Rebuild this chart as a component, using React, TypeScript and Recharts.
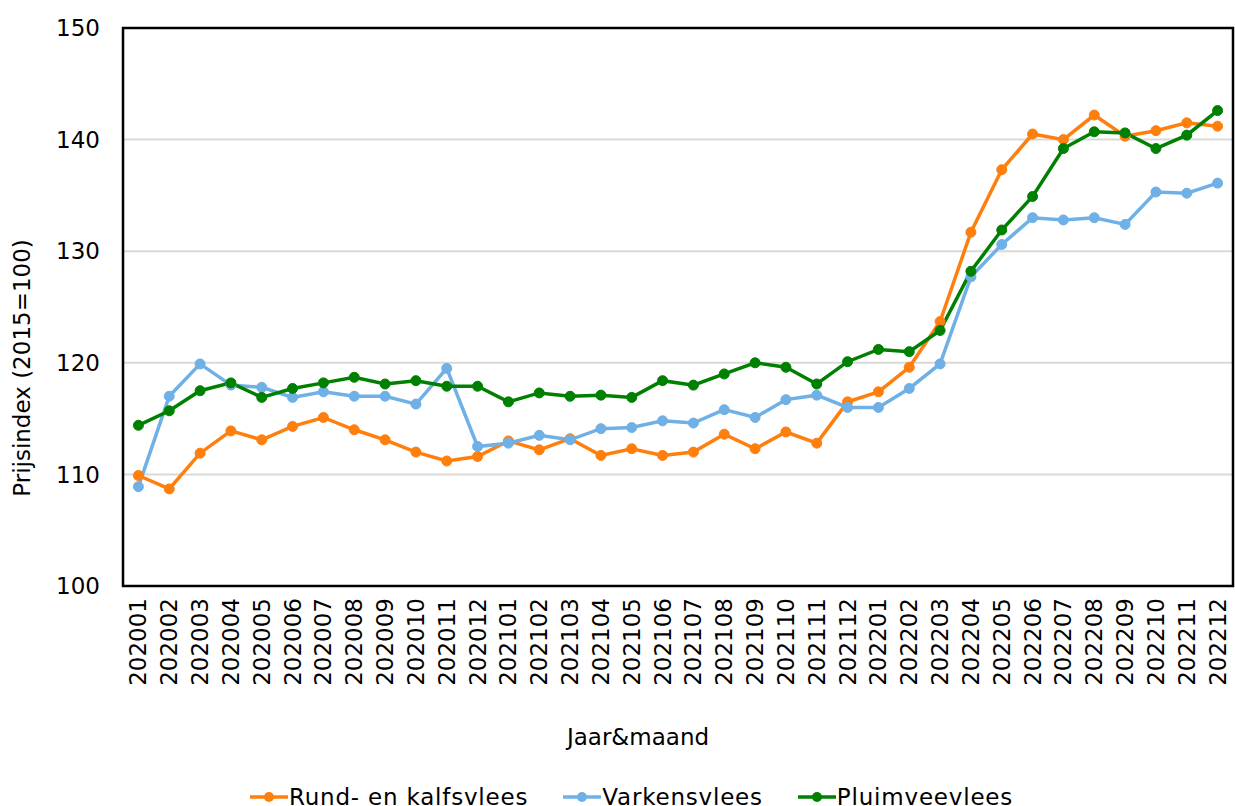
import { CartesianGrid, Legend, Line, LineChart, ReferenceArea, XAxis, YAxis } from "recharts";

const months = [
  "202001", "202002", "202003", "202004", "202005", "202006",
  "202007", "202008", "202009", "202010", "202011", "202012",
  "202101", "202102", "202103", "202104", "202105", "202106",
  "202107", "202108", "202109", "202110", "202111", "202112",
  "202201", "202202", "202203", "202204", "202205", "202206",
  "202207", "202208", "202209", "202210", "202211", "202212",
];

const rund = [
  109.9, 108.7, 111.9, 113.9, 113.1, 114.3, 115.1, 114.0, 113.1, 112.0, 111.2, 111.6,
  113.0, 112.2, 113.2, 111.7, 112.3, 111.7, 112.0, 113.6, 112.3, 113.8, 112.8, 116.5,
  117.4, 119.6, 123.7, 131.7, 137.3, 140.5, 140.0, 142.2, 140.3, 140.8, 141.5, 141.2,
];

const varken = [
  108.9, 117.0, 119.9, 118.0, 117.8, 116.9, 117.4, 117.0, 117.0, 116.3, 119.5, 112.5,
  112.8, 113.5, 113.1, 114.1, 114.2, 114.8, 114.6, 115.8, 115.1, 116.7, 117.1, 116.0,
  116.0, 117.7, 119.9, 127.7, 130.6, 133.0, 132.8, 133.0, 132.4, 135.3, 135.2, 136.1,
];

const pluim = [
  114.4, 115.7, 117.5, 118.2, 116.9, 117.7, 118.2, 118.7, 118.1, 118.4, 117.9, 117.9,
  116.5, 117.3, 117.0, 117.1, 116.9, 118.4, 118.0, 119.0, 120.0, 119.6, 118.1, 120.1,
  121.2, 121.0, 122.9, 128.2, 131.9, 134.9, 139.2, 140.7, 140.6, 139.2, 140.4, 142.6,
];

const seriesNames = ["Rund- en kalfsvlees", "Varkensvlees", "Pluimveevlees"];
const yTicks = [100, 110, 120, 130, 140, 150];

const data = months.map((m, i) => ({
  month: m,
  rund: rund[i],
  varken: varken[i],
  pluim: pluim[i],
}));

const FONT = "Verdana, 'DejaVu Sans', sans-serif";

const MonthTick = (props: any) => {
  const { x, y, payload } = props;
  return (
    <text
      x={x}
      y={y}
      transform={`rotate(-90, ${x}, ${y})`}
      textAnchor="end"
      dominantBaseline="central"
      fontSize={23}
      fontFamily={FONT}
      fill="#000"
    >
      {payload.value}
    </text>
  );
};

const renderLegend = (props: any) => {
  const items = [...props.payload].sort(
    (a: any, b: any) => seriesNames.indexOf(a.value) - seriesNames.indexOf(b.value)
  );
  return (
    <div style={{ display: "flex", justifyContent: "center", gap: 35, paddingLeft: 28, fontFamily: FONT, fontSize: 23, lineHeight: "28px", letterSpacing: 0.8 }}>
      {items.map((entry: any) => (
        <div key={entry.value} style={{ display: "flex", alignItems: "center" }}>
          <svg width={38} height={12} style={{ marginRight: 1 }}>
            <line x1={0} y1={6} x2={38} y2={6} stroke={entry.color} strokeWidth={3.5} />
            <circle cx={19} cy={6} r={5} fill={entry.color} />
          </svg>
          <span style={{ color: "#000" }}>{entry.value}</span>
        </div>
      ))}
    </div>
  );
};

export default function App() {
  return (
    <div style={{ width: 1235, height: 806, background: "#fff" }}>
      <style>{"body{margin:0}"}</style>
      <LineChart width={1235} height={806} data={data} margin={{ top: 28, right: 2, bottom: 0, left: 0 }}>
        <CartesianGrid vertical={false} stroke="#d9d9d9" strokeWidth={2} />
        <XAxis
          dataKey="month"
          scale="band"
          height={220}
          interval={0}
          tick={<MonthTick />}
          tickLine={false}
          axisLine={false}
          tickSize={0}
          tickMargin={12}
          label={{
            content: ({ viewBox }: any) => (
              <text
                x={viewBox.x + viewBox.width / 2 - 40}
                y={viewBox.y + 151}
                textAnchor="middle"
                dominantBaseline="central"
                fontSize={23}
                fontFamily={FONT}
                fill="#000"
              >
                Jaar&amp;maand
              </text>
            ),
          }}
        />
        <YAxis
          width={123}
          domain={[100, 150]}
          ticks={yTicks}
          interval={0}
          tickLine={false}
          axisLine={false}
          tickSize={0}
          tickMargin={23}
          tick={{ fontSize: 23, fontFamily: FONT, fill: "#000" }}
          label={{
            content: ({ viewBox }: any) => {
              const cx = 22;
              const cy = viewBox.y + viewBox.height / 2 + 61;
              return (
                <text
                  x={cx}
                  y={cy}
                  transform={`rotate(-90, ${cx}, ${cy})`}
                  textAnchor="middle"
                  dominantBaseline="central"
                  fontSize={23}
                  fontFamily={FONT}
                  fill="#000"
                >
                  Prijsindex (2015=100)
                </text>
              );
            },
          }}
        />
        <ReferenceArea y1={100} y2={150} fill="none" stroke="#000" strokeWidth={2.5} ifOverflow="visible" />
        <Legend
          layout="horizontal"
          verticalAlign="middle"
          align="center"
          content={renderLegend}
          wrapperStyle={{ top: 783, left: 0, width: 1235 }}
        />
        <Line
          dataKey="rund"
          name={seriesNames[0]}
          stroke="#ff7f0e"
          strokeWidth={3.5}
          dot={{ r: 5, fill: "#ff7f0e", stroke: "#ff7f0e", strokeWidth: 1 }}
          activeDot={false}
          isAnimationActive={false}
        />
        <Line
          dataKey="varken"
          name={seriesNames[1]}
          stroke="#6fb0e6"
          strokeWidth={3.5}
          dot={{ r: 5, fill: "#6fb0e6", stroke: "#6fb0e6", strokeWidth: 1 }}
          activeDot={false}
          isAnimationActive={false}
        />
        <Line
          dataKey="pluim"
          name={seriesNames[2]}
          stroke="#008000"
          strokeWidth={3.5}
          dot={{ r: 5, fill: "#008000", stroke: "#008000", strokeWidth: 1 }}
          activeDot={false}
          isAnimationActive={false}
        />
      </LineChart>
    </div>
  );
}
